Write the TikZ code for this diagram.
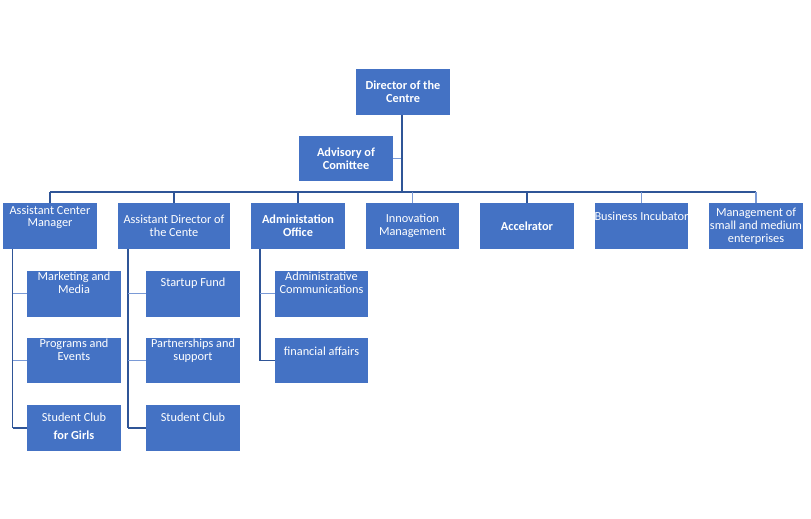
\documentclass[tikz,border=0pt]{standalone}
\usepackage{fontspec}
\setmainfont{Carlito}
\usepackage{tikz}
\definecolor{unitblue}{HTML}{4472C4}
\definecolor{linedark}{HTML}{2F5597}
\definecolor{linelight}{HTML}{7A9AD6}

\begin{document}
\begin{tikzpicture}[x=1pt,y=-1pt,
unit/.style={fill=unitblue,text=white,align=center,inner sep=0pt,
  minimum width=94pt,minimum height=46pt,font=\fontsize{12.3}{12.8}\selectfont},
lbl/.style={text=white,align=center,inner sep=0pt,anchor=north,
  font=\fontsize{12.3}{12.8}\selectfont},
trunk/.style={draw=linedark,line width=2pt},
bus/.style={draw=linedark,line width=1.1pt},
twig/.style={draw=linelight,line width=1.2pt}
]
\useasboundingbox (0,0) rectangle (811,519);
% top of the chart
\node[unit,font=\bfseries\fontsize{12.3}{12.8}\selectfont] (dir) at (403,92) {Director of the\\Centre};
\node[unit,minimum height=45pt,font=\bfseries\fontsize{12.3}{12.8}\selectfont] (adv) at (346,158.5) {Advisory of\\Comittee};
% first level
\node[unit] (acm) at (50,226) {};
\node[lbl] (acm-t) at (50,205.5) {Assistant Center\\Manager};
\node[unit,minimum width=112pt] (adc) at (174,226) {Assistant Director of\\the Cente};
\node[unit,font=\bfseries\fontsize{12.3}{12.8}\selectfont] (aof) at (298,226) {Administation\\Office};
\node[unit,minimum width=93pt] (inm) at (412.5,226) {Innovation\\Management};
\node[unit,font=\bfseries\fontsize{12.3}{12.8}\selectfont] (acc) at (527,226) {Accelrator};
\node[unit,minimum width=93pt] (bin) at (641.5,226) {};
\node[lbl] (bin-t) at (641.5,211.5) {Business Incubator};
\node[unit] (sme) at (756,226) {Management of\\small and medium\\enterprises};
% second level
\node[unit] (mkt) at (74,293.5) {};
\node[lbl] (mkt-t) at (74,272) {Marketing and\\Media};
\node[unit,minimum height=45pt] (prg) at (74,360.5) {};
\node[lbl] (prg-t) at (74,339) {Programs and\\Events};
\node[unit] (scg) at (74,428) {};
\node[lbl,font=\fontsize{12.3}{18}\selectfont] (scg-t) at (74,413) {Student Club\\\textbf{for Girls}};
\node[unit] (suf) at (193,293.5) {};
\node[lbl] (suf-t) at (193,278) {Startup Fund};
\node[unit,minimum height=45pt] (pas) at (193,360.5) {};
\node[lbl] (pas-t) at (193,339) {Partnerships and\\support};
\node[unit] (stc) at (193,428) {};
\node[lbl] (stc-t) at (193,413) {Student Club};
\node[unit,minimum width=93pt] (adm) at (321.5,293.5) {};
\node[lbl] (adm-t) at (321.5,272) {Administrative\\Communications};
\node[unit,minimum width=93pt,minimum height=45pt] (fin) at (321.5,360.5) {};
\node[lbl] (fin-t) at (321.5,347) {financial affairs};
% connectors
\coordinate (bus-l) at (50,192);
\coordinate (bus-r) at (756,192);
\coordinate (bus-m) at (402,192);
\coordinate (acm-s) at (12.6,249);
\coordinate (adc-s) at (128,249);
\coordinate (aof-s) at (260,249);
\draw[twig] (adv.east) -- (adv.east -| bus-m);
\draw[bus] (bus-l) -- (bus-r);
\draw[trunk] (dir.south -| bus-m) -- (bus-m);
\draw[bus] (acm.north |- bus-l) -- (acm.north);
\draw[bus] (adc.north |- bus-l) -- (adc.north);
\draw[bus] (aof.north |- bus-l) -- (aof.north);
\draw[twig] (inm.north |- bus-l) -- (inm.north);
\draw[bus] (acc.north |- bus-l) -- (acc.north);
\draw[twig] (bin.north |- bus-l) -- (bin.north);
\draw[twig] (sme.north |- bus-l) -- (sme.north);
\draw[bus] (acm-s) -- (acm-s |- scg.west);
\draw[bus] (adc-s) -- (adc-s |- stc.west);
\draw[bus] (aof-s) -- (aof-s |- fin.west);
\draw[twig] (acm-s |- mkt.west) -- (mkt.west);
\draw[twig] (acm-s |- prg.west) -- (prg.west);
\draw[bus] (acm-s |- scg.west) -- (scg.west);
\draw[twig] (adc-s |- suf.west) -- (suf.west);
\draw[twig] (adc-s |- pas.west) -- (pas.west);
\draw[bus] (adc-s |- stc.west) -- (stc.west);
\draw[twig] (aof-s |- adm.west) -- (adm.west);
\draw[bus] (aof-s |- fin.west) -- (fin.west);
\end{tikzpicture}
\end{document}
